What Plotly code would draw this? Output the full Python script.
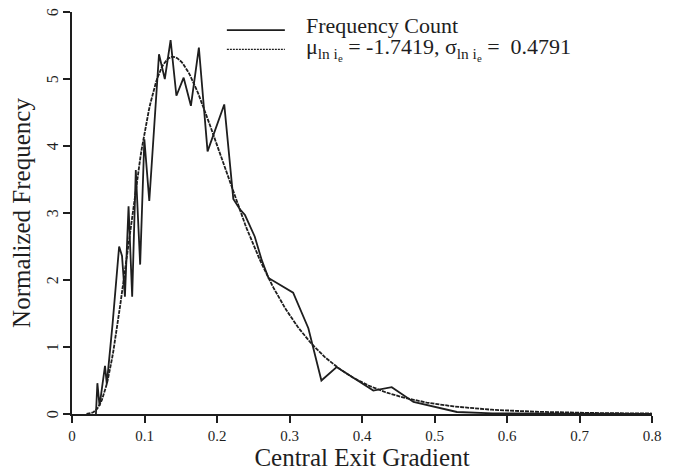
import numpy as np
import plotly.graph_objects as go

# Normalized frequency of the central exit gradient (histogram polygon)
gradient = [0.033, 0.035, 0.038, 0.0455, 0.048, 0.056, 0.065, 0.069, 0.073, 0.078,
            0.083, 0.088, 0.094, 0.0998, 0.1066, 0.120, 0.128, 0.136, 0.144, 0.154,
            0.164, 0.175, 0.187, 0.210, 0.2225, 0.232, 0.2386, 0.252, 0.2616, 0.271,
            0.305, 0.326, 0.344, 0.365, 0.4156, 0.441, 0.471, 0.531, 0.58, 0.65, 0.72, 0.80]
frequency = [0.0, 0.46, 0.12, 0.72, 0.45, 1.35, 2.5, 2.36, 1.75, 3.1,
             1.75, 3.64, 2.23, 4.1, 3.18, 5.37, 5.0, 5.58, 4.75, 5.02,
             4.6, 5.47, 3.92, 4.62, 3.21, 3.05, 2.97, 2.65, 2.3, 2.03,
             1.81, 1.28, 0.5, 0.70, 0.35, 0.40, 0.18, 0.03, 0.01, 0.005, 0.0, 0.0]

# Fitted lognormal parameters of ln(i_e)
mu_ln = -1.7419
sigma_ln = 0.4791

x_tick_vals = [0, 0.1, 0.2, 0.3, 0.4, 0.5, 0.6, 0.7, 0.8]
x_tick_text = ["0", "0.1", "0.2", "0.3", "0.4", "0.5", "0.6", "0.7", "0.8"]
y_tick_vals = [0, 1, 2, 3, 4, 5, 6]
y_tick_text = ["0", "1", "2", "3", "4", "5", "6"]

ink = "#1e1e1e"
serif = "Liberation Serif, Times New Roman, serif"

xs = np.linspace(0.02, 0.8, 400)
pdf = np.exp(-(np.log(xs) - mu_ln) ** 2 / (2 * sigma_ln ** 2)) / (xs * sigma_ln * np.sqrt(2 * np.pi))

fig = go.Figure()
fig.add_trace(go.Scatter(x=xs, y=pdf, mode="lines",
                         line=dict(color=ink, width=1.8, dash="4px,1px"),
                         showlegend=False, cliponaxis=False))
fig.add_trace(go.Scatter(x=gradient, y=frequency, mode="lines",
                         line=dict(color=ink, width=1.8),
                         showlegend=False, cliponaxis=False))

# Legend keys and labels
fig.add_shape(type="line", xref="paper", yref="paper", x0=0.267, x1=0.367, y0=0.955, y1=0.955,
              line=dict(color=ink, width=1.8))
fig.add_shape(type="line", xref="paper", yref="paper", x0=0.267, x1=0.367, y0=0.907, y1=0.907,
              line=dict(color=ink, width=1.4, dash="2px,1px"))
fig.add_annotation(xref="paper", yref="paper", x=0.400, y=0.966, xanchor="left", yanchor="middle",
                   text="Frequency Count", showarrow=False,
                   font=dict(family=serif, size=22, color=ink))
fig.add_annotation(xref="paper", yref="paper", x=0.400, y=0.909, xanchor="left", yanchor="middle",
                   text="μ<sub>ln i<sub>e</sub></sub> = -1.7419, σ<sub>ln i<sub>e</sub></sub> =  0.4791",
                   showarrow=False, font=dict(family=serif, size=22, color=ink))

# Y tick labels set parallel to the axis, a little away from the ticks
for val, txt in zip(y_tick_vals, y_tick_text):
    fig.add_annotation(xref="x domain", yref="y", x=-0.034, y=val, xanchor="center", yanchor="middle",
                       text=txt, textangle=-90, showarrow=False,
                       font=dict(family=serif, size=16, color=ink))

fig.update_layout(
    width=675, height=473,
    margin=dict(l=72, r=23, t=12, b=53),
    paper_bgcolor="white", plot_bgcolor="white",
    font=dict(family=serif, color=ink),
    xaxis=dict(range=[0, 0.8], tickvals=x_tick_vals, ticktext=x_tick_text,
               showgrid=False, zeroline=False, showline=True, linecolor=ink, linewidth=1.5,
               ticks="outside", ticklen=7, tickwidth=1.5, tickcolor=ink,
               tickfont=dict(size=15, family=serif),
               title=dict(text="Central Exit Gradient", font=dict(size=25, family=serif), standoff=0)),
    yaxis=dict(range=[0, 6], tickvals=y_tick_vals, showticklabels=False,
               showgrid=False, zeroline=False, showline=True, linecolor=ink, linewidth=1.5,
               ticks="outside", ticklen=7, tickwidth=1.5, tickcolor=ink,
               title=dict(text="Normalized Frequency", font=dict(size=25, family=serif), standoff=26)),
)

fig.write_html("out.html")
